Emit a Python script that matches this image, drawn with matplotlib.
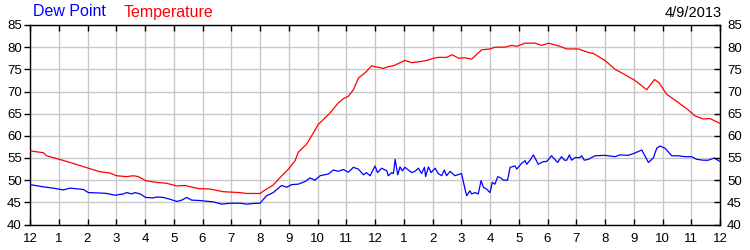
import matplotlib
matplotlib.use("Agg")
import matplotlib.pyplot as plt

plt.rcParams['font.family'] = ['Liberation Sans', 'DejaVu Sans']

temp_hours = [0.00, 0.46, 0.58, 1.02, 1.39, 2.03, 2.43, 2.78, 3.01, 3.36, 3.60, 3.77,
              4.02, 4.40, 4.75, 5.10, 5.39, 5.86, 6.26, 6.72, 7.30, 7.54, 8.00, 8.23,
              8.46, 8.70, 8.99, 9.22, 9.33, 9.62, 9.86, 10.03, 10.43, 10.72, 10.90, 11.07,
              11.25, 11.42, 11.70, 11.88, 12.00, 12.29, 12.46, 12.64, 13.04, 13.28, 13.62,
              13.86, 14.03, 14.20, 14.49, 14.69, 14.90, 15.13, 15.36, 15.71, 16.00, 16.17,
              16.52, 16.75, 16.93, 17.22, 17.57, 17.80, 18.03, 18.38, 18.67, 19.07, 19.42,
              19.59, 20.00, 20.35, 20.64, 21.04, 21.45, 21.72, 21.88, 22.14, 22.49, 22.90,
              23.13, 23.42, 23.65, 24.00]
temperature = [56.6, 56.2, 55.5, 54.7, 54.0, 52.7, 51.9, 51.6, 51.0, 50.8, 51.0, 50.8,
               49.9, 49.5, 49.3, 48.7, 48.8, 48.1, 48.0, 47.4, 47.2, 47.0, 47.0, 48.0,
               48.9, 50.6, 52.5, 54.4, 56.3, 58.1, 60.7, 62.6, 65.1, 67.4, 68.4, 68.9,
               70.4, 73.0, 74.5, 75.8, 75.6, 75.2, 75.6, 75.8, 77.0, 76.5, 76.8,
               77.1, 77.5, 77.7, 77.7, 78.3, 77.5, 77.6, 77.3, 79.4, 79.6, 80.0,
               80.0, 80.4, 80.2, 80.9, 80.9, 80.4, 80.9, 80.3, 79.6, 79.6, 78.8,
               78.6, 77.0, 75.0, 74.0, 72.5, 70.4, 72.7, 72.0, 69.4, 67.8, 65.8,
               64.5, 63.8, 63.9, 62.8]

dew_hours = [0.00, 0.46, 0.81, 1.16, 1.39, 1.86, 2.03, 2.43, 2.67, 2.96, 3.25, 3.36,
             3.54, 3.65, 3.83, 4.02, 4.29, 4.40, 4.64, 4.87, 5.10, 5.28, 5.45, 5.62,
             5.91, 6.38, 6.67, 6.96, 7.30, 7.54, 7.88, 8.00, 8.23, 8.46, 8.75, 8.93,
             9.10, 9.33, 9.57, 9.74, 9.91, 10.09, 10.38, 10.55, 10.72, 10.90, 11.07,
             11.25, 11.42, 11.60, 11.70, 11.83, 12.00, 12.09, 12.23, 12.41, 12.46, 12.58,
             12.64, 12.70, 12.79, 12.87, 12.95, 13.04, 13.28, 13.39, 13.51, 13.62, 13.72,
             13.76, 13.86, 13.95, 14.09, 14.20, 14.32, 14.41, 14.49, 14.61, 14.78, 15.01,
             15.13, 15.19, 15.30, 15.36, 15.48, 15.59, 15.69, 15.77, 15.88, 16.00, 16.08,
             16.17, 16.27, 16.38, 16.46, 16.61, 16.70, 16.87, 16.93, 17.10, 17.22, 17.28,
             17.39, 17.51, 17.68, 17.86, 17.97, 18.14, 18.35, 18.49, 18.59, 18.67, 18.76,
             18.84, 18.96, 19.13, 19.19, 19.28, 19.42, 19.65, 20.00, 20.35, 20.52, 20.81,
             20.99, 21.28, 21.51, 21.68, 21.80, 21.91, 22.09, 22.32, 22.55, 22.78, 23.01,
             23.19, 23.42, 23.59, 23.80, 24.00]
dew_point = [49.0, 48.5, 48.2, 47.8, 48.2, 47.9, 47.2, 47.1, 47.0, 46.6, 46.9, 47.2,
             46.9, 47.2, 46.9, 46.1, 46.0, 46.2, 46.1, 45.7, 45.2, 45.5, 46.1, 45.5,
             45.4, 45.1, 44.6, 44.8, 44.8, 44.6, 44.8, 44.8, 46.5, 47.2, 48.8, 48.4,
             49.0, 49.1, 49.7, 50.5, 50.0, 51.0, 51.4, 52.3, 52.0, 52.4, 51.8,
             52.9, 52.5, 51.2, 51.7, 51.0, 53.2, 51.7, 52.7, 52.1, 51.0, 51.7,
             51.5, 54.7, 51.2, 53.0, 52.1, 52.9, 51.7, 52.0, 52.7, 51.5, 52.9,
             50.8, 53.0, 51.7, 52.7, 51.5, 51.0, 52.3, 51.0, 52.0, 51.0, 51.5,
             48.0, 46.5, 47.6, 46.9, 47.2, 46.9, 49.9, 48.4, 48.0, 47.2, 49.5,
             49.1, 50.8, 50.5, 50.0, 50.0, 52.9, 53.2, 52.5, 53.8, 54.4, 53.6,
             54.5, 55.7, 53.6, 54.2, 54.2, 55.5, 54.0, 55.3, 54.5, 54.5, 55.7,
             54.5, 55.1, 55.1, 55.5, 54.5, 54.7, 55.5, 55.6, 55.3, 55.7, 55.6,
             56.0, 56.8, 54.0, 55.0, 57.2, 57.7, 57.2, 55.5, 55.5, 55.3, 55.3,
             54.7, 54.5, 54.5, 55.0, 54.2]

x_ticks = list(range(0, 25))
x_labels = ['12', '1', '2', '3', '4', '5', '6', '7', '8', '9', '10', '11',
            '12', '1', '2', '3', '4', '5', '6', '7', '8', '9', '10', '11', '12']
y_ticks = [40, 45, 50, 55, 60, 65, 70, 75, 80, 85]

fig = plt.figure(figsize=(7.5, 2.5), dpi=100)
ax = fig.add_axes([30 / 750, 1 - 224.5 / 250, 690 / 750, 199.5 / 250])

ax.plot(temp_hours, temperature, color='#ff0000', lw=0.9, zorder=3)
ax.plot(dew_hours, dew_point, color='#0000ff', lw=0.9, zorder=3)

ax.set_xlim(0, 24)
ax.set_ylim(40, 85)
ax.set_xticks(x_ticks)
ax.set_xticklabels(x_labels)
ax.set_yticks(y_ticks)
ax.grid(True, color='#c8c8c8', lw=1.0, zorder=0)
ax.set_axisbelow(True)
for s in ax.spines.values():
    s.set_color('black')
    s.set_linewidth(1.0)

ax.tick_params(axis='x', direction='in', top=True, length=4, width=1,
               labelsize=9.5, pad=6)
ax.tick_params(axis='y', direction='out', left=True, right=False, length=4, width=1,
               labelsize=9.5, pad=2)

ax2 = ax.twinx()
ax2.set_ylim(40, 85)
ax2.set_yticks(y_ticks)
ax2.tick_params(axis='y', direction='in', length=4, width=1, labelsize=9.5, pad=5)
for s in ax2.spines.values():
    s.set_visible(False)

fig.text(33 / 750, 1 - 12 / 250, 'Dew Point', color='#0000ff', fontsize=11.5,
         ha='left', va='center')
fig.text(124 / 750, 1 - 12 / 250, 'Temperature', color='#ff0000', fontsize=11.5,
         ha='left', va='center')
fig.text(722 / 750, 1 - 13 / 250, '4/9/2013', color='black', fontsize=10.5,
         ha='right', va='center')

fig.savefig('out.png', dpi=100)
